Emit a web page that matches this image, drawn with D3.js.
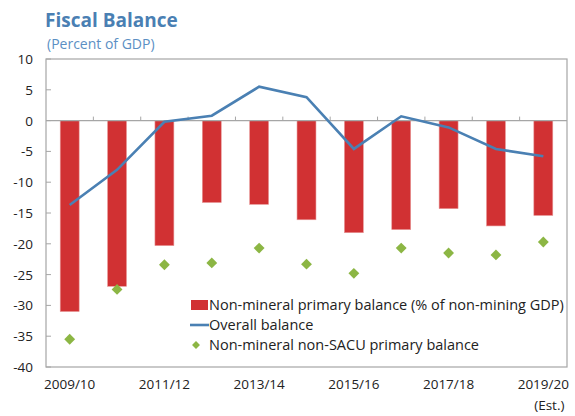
<!DOCTYPE html>
<html>
<head>
<meta charset="utf-8">
<script src="https://cdn.jsdelivr.net/npm/d3@7"></script>
<style>
  body { margin: 0; background: #fff; }
  text { font-family: "Open Sans", "Noto Sans", sans-serif; }
</style>
</head>
<body>
<div id="chart"></div>
<script>
// fiscal years
var years = ["2009/10", "2010/11", "2011/12", "2012/13", "2013/14", "2014/15",
             "2015/16", "2016/17", "2017/18", "2018/19", "2019/20"]
var xLabels = ["2009/10", "2011/12", "2013/14", "2015/16", "2017/18", "2019/20"]
var nonMineral = [-31.0, -26.9, -20.3, -13.3, -13.6, -16.1, -18.2, -17.7, -14.3, -17.1, -15.4]
var overall = [-13.7, -8.0, -0.2, 0.8, 5.5, 3.8, -4.6, 0.7, -1.1, -4.6, -5.8]
var nonSacu = [-35.5, -27.4, -23.4, -23.1, -20.7, -23.3, -24.8, -20.7, -21.5, -21.8, -19.7]
var yTicks = [10, 5, 0, -5, -10, -15, -20, -25, -30, -35, -40]
var legendNames = ["Non-mineral primary balance (% of non-mining GDP)", "Overall balance",
                   "Non-mineral non-SACU primary balance"]

var width = 575, height = 416
var pLeft = 46, pRight = 567, pTop = 59, pBottom = 367

var svg = d3.select("#chart").append("svg")
    .attr("width", width)
    .attr("height", height)

svg.append("text")
    .attr("x", 45).attr("y", 27)
    .style("font-size", "19px").style("font-weight", "bold")
    .style("fill", "#4a7fb3")
    .text("Fiscal Balance")
svg.append("text")
    .attr("x", 47).attr("y", 49)
    .style("font-size", "14px")
    .style("fill", "#5b8fc4")
    .text("(Percent of GDP)")

var x = d3.scaleBand().domain(years).range([pLeft, pRight])
var y = d3.scaleLinear().domain([-40, 10]).range([pBottom, pTop])

// frame
svg.append("rect")
    .attr("x", pLeft).attr("y", pTop)
    .attr("width", pRight - pLeft).attr("height", pBottom - pTop)
    .style("fill", "none").style("stroke", "#a6a6a6").style("stroke-width", 1.2)

// y ticks (inward)
svg.append("g").selectAll("line").data(yTicks).enter()
    .append("line")
    .attr("x1", pLeft).attr("x2", pLeft + 5)
    .attr("y1", d => y(d)).attr("y2", d => y(d))
    .style("stroke", "#a6a6a6")
svg.append("g").selectAll("text").data(yTicks).enter()
    .append("text")
    .attr("x", 33).attr("y", d => y(d) + 5)
    .attr("text-anchor", "end")
    .style("font-size", "13.5px").style("fill", "#222")
    .text(d => d)

// bars
svg.append("g").selectAll("rect").data(nonMineral).enter()
    .append("rect")
    .attr("x", (d, i) => x(years[i]) + x.bandwidth() * 0.3)
    .attr("width", x.bandwidth() * 0.4)
    .attr("y", y(0))
    .attr("height", d => y(d) - y(0))
    .style("fill", "#d13133")
    .style("stroke", "#e89a9a").style("stroke-width", 0.6)

// zero line + category ticks
svg.append("line")
    .attr("x1", pLeft).attr("x2", pRight)
    .attr("y1", y(0)).attr("y2", y(0))
    .style("stroke", "#a6a6a6").style("stroke-width", 1.2)
svg.append("g").selectAll("line").data(years.slice(1)).enter()
    .append("line")
    .attr("x1", d => x(d)).attr("x2", d => x(d))
    .attr("y1", y(0)).attr("y2", y(0) - 4)
    .style("stroke", "#a6a6a6")

// overall balance line
var line = d3.line()
    .x((d, i) => x(years[i]) + x.bandwidth() / 2)
    .y(d => y(d))
svg.append("path")
    .attr("d", line(overall))
    .style("fill", "none")
    .style("stroke", "#4a80b3")
    .style("stroke-width", 2.6)

// diamonds
var diamond = d3.symbol().type(d3.symbolDiamond2).size(75)
svg.append("g").selectAll("path").data(nonSacu).enter()
    .append("path")
    .attr("d", diamond)
    .attr("transform", (d, i) => `translate(${x(years[i]) + x.bandwidth() / 2},${y(d)})`)
    .style("fill", "#8cb644")

// x labels
svg.append("g").selectAll("text").data(xLabels).enter()
    .append("text")
    .attr("x", d => x(d) + x.bandwidth() / 2)
    .attr("y", 389)
    .attr("text-anchor", "middle")
    .style("font-size", "13.5px").style("fill", "#222")
    .text(d => d)
svg.append("text")
    .attr("x", x("2019/20") + x.bandwidth() / 2 + 6)
    .attr("y", 410)
    .attr("text-anchor", "middle")
    .style("font-size", "13.5px").style("fill", "#222")
    .text("(Est.)")

// legend
var lg = svg.append("g")
lg.append("rect").attr("x", 191).attr("y", 300).attr("width", 17).attr("height", 10)
    .style("fill", "#d13133")
lg.append("line").attr("x1", 190).attr("x2", 209).attr("y1", 325).attr("y2", 325)
    .style("stroke", "#4a80b3").style("stroke-width", 2.6)
lg.append("path").attr("d", d3.symbol().type(d3.symbolDiamond2).size(40))
    .attr("transform", "translate(196,345)")
    .style("fill", "#8cb644")
lg.selectAll("text").data(legendNames).enter()
    .append("text")
    .attr("x", 209)
    .attr("y", (d, i) => 310 + i * 20)
    .style("font-size", "14.5px").style("fill", "#222")
    .text(d => d)
</script>
</body>
</html>
